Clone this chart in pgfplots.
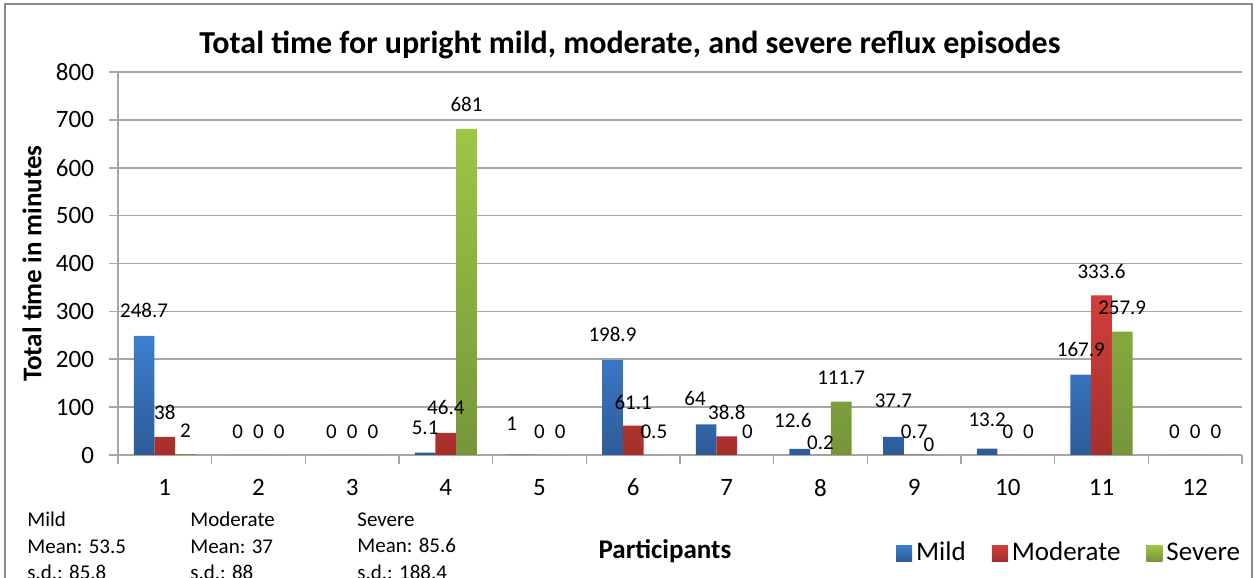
\documentclass[border=0pt]{standalone}
\usepackage{pgfplots}
\usepackage{pgfplotstable}
\usepackage{fontspec}
\setmainfont{Carlito}
\pgfplotsset{compat=1.18}

\definecolor{mildT}{HTML}{3D7ECF}
\definecolor{mildB}{HTML}{2D5B98}
\definecolor{modT}{HTML}{D23F3B}
\definecolor{modB}{HTML}{A52F2C}
\definecolor{sevT}{HTML}{9DC645}
\definecolor{sevB}{HTML}{76963A}
\definecolor{gridgray}{HTML}{A6A6A6}

% x = participant, y = minutes, dy/dx = label offset in px
\pgfplotstableread{
x y dy dx
1 248.7 24 0
2 0 22.3 0
3 0 22.3 0
4 5.1 24 0
5 1 30 -7
6 198.9 24.3 0
7 64 24.7 -11
8 12.6 27.3 -7
9 37.7 35 0
10 13.2 28 0
11 167.9 24 0
12 0 22.3 0
}\mild
\pgfplotstableread{
x y dy dx
1 38 23 0
2 0 22.3 0
3 0 22.3 0
4 46.4 24 0
5 0 22.3 0
6 61.1 22.4 0
7 38.8 23 0
8 0.2 11 0
9 0.7 22.3 0
10 0 22.3 0
11 333.6 23.3 0
12 0 22.3 0
}\moderate
\pgfplotstableread{
x y dy dx
1 2 22.3 0
2 0 22.3 0
3 0 22.3 0
4 681 24 0
5 0 22.3 0
6 0.5 22 0
7 0 22.3 0
8 111.7 23 0
9 0 9.3 -6
10 0 22.3 0
11 257.9 23.2 0
12 0 22.3 0
}\severe

\begin{document}
\begin{tikzpicture}
\useasboundingbox (-59pt,-61.5pt) rectangle (568.5pt,227.5pt);
\draw[gray!90, line width=0.8pt] (-56.5pt,-80pt) -- (-56.5pt,225.5pt) -- (567pt,225.5pt) -- (567pt,-80pt);
\begin{axis}[
    scale only axis, width=562pt, height=191.5pt,
    clip=false,
    ybar=0pt, bar width=10.35pt,
    xmin=0.5, xmax=12.5, ymin=0, ymax=800,
    xtick={1,...,12}, minor xtick={0.5,1.5,...,12.5},
    ytick={0,100,...,800},
    axis x line*=bottom, axis y line*=left,
    axis line style={gridgray, line width=0.8pt},
    ymajorgrids, grid style={gridgray, line width=0.8pt},
    tick align=outside, major tick length=4.5pt, minor tick length=4.5pt,
    major x tick style={draw=none},
    minor x tick style={draw=gridgray, line width=0.8pt},
    ytick style={draw=gridgray, line width=0.8pt},
    /pgf/number format/assume math mode=true,
    tick label style={font=\fontsize{12.5}{15}\selectfont},
    yticklabel style={xshift=-4pt},
    xticklabel style={yshift=-4pt},
    every axis title shift=0pt,
    title={Total time for upright mild, moderate, and severe reflux episodes},
    title style={at={(axis description cs:0.4555,1.0705)}, anchor=center,
        font=\fontsize{16}{19}\selectfont\bfseries},
    xlabel={Participants},
    xlabel style={at={(axis description cs:0.4866,-0.2507)}, anchor=center,
        font=\fontsize{13.5}{16}\selectfont\bfseries},
    ylabel={Total time in minutes},
    ylabel style={at={(axis description cs:-0.0765,0.5)}, anchor=center,
        font=\fontsize{13.5}{16}\selectfont\bfseries},
    legend columns=-1,
    legend style={at={(axis description cs:1.0075,-0.256)}, anchor=east,
        draw=none, fill=none, font=\fontsize{13.5}{16}\selectfont,
        /tikz/every even column/.append style={column sep=11pt}},
    legend image code/.code={\fill[#1] (0pt,-4pt) rectangle (8pt,4pt);},
    nodes near coords,
    visualization depends on={\thisrow{dy}\as\dy},
    visualization depends on={\thisrow{dx}\as\dx},
    every node near coord/.append style={anchor=south, inner sep=0pt,
        font=\fontsize{10.5}{12}\selectfont, text=black,
        yshift={(0.5*\dy-3.3)*1pt}, xshift={0.5*\dx*1pt}},
]
\addplot[draw=none, top color=mildT, bottom color=mildB] table[x=x, y=y, meta=y] {\mild};
\addplot[draw=none, top color=modT, bottom color=modB] table[x=x, y=y, meta=y] {\moderate};
\addplot[draw=none, top color=sevT, bottom color=sevB] table[x=x, y=y, meta=y] {\severe};
\legend{Mild, Moderate, Severe}
\node[anchor=north west, inner sep=0pt, align=left, font=\fontsize{10.5}{13.25}\selectfont]
    at (axis description cs:-0.081,-0.1488) {Mild\\Mean: 53.5\\s.d.: 85.8};
\node[anchor=north west, inner sep=0pt, align=left, font=\fontsize{10.5}{13.25}\selectfont]
    at (axis description cs:0.064,-0.1488) {Moderate\\Mean: 37\\s.d.: 88};
\node[anchor=north west, inner sep=0pt, align=left, font=\fontsize{10.5}{13.25}\selectfont]
    at (axis description cs:0.2126,-0.1488) {Severe\\Mean: 85.6\\s.d.: 188.4};
\end{axis}
\end{tikzpicture}
\end{document}
